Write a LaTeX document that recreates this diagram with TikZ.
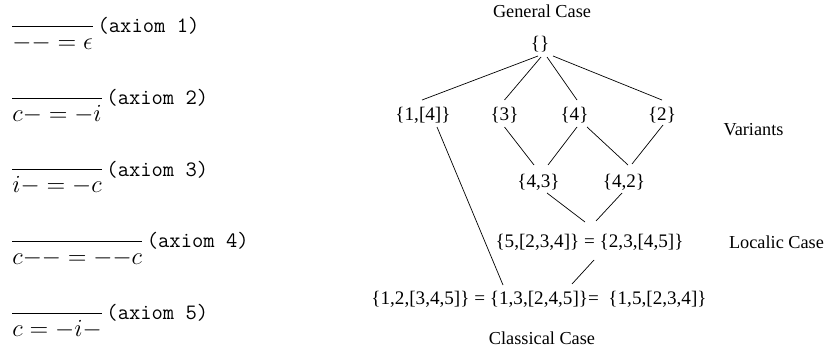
\documentclass[tikz,border=0pt]{standalone}
\usepackage{fix-cm}
\usepackage{amsmath}
\usepackage{fontspec}
\newfontfamily\casefont{Liberation Serif}
\usetikzlibrary{positioning}
\newcommand{\axiomrule}[2]{{\fontsize{14}{16}\selectfont$\dfrac{}{#1}$}\kern1.5pt\texttt{(#2)}}
\tikzset{
  lattnode/.style={
    font=\fontsize{10.9}{12}\selectfont\casefont,
    inner sep=0pt
  },
  caselabel/.style={lattnode, font=\fontsize{10.4}{12}\selectfont\casefont},
  axiombox/.style={
    anchor=base west, inner sep=0pt,
    font=\fontsize{12.5}{15}\selectfont
  },
  lattedge/.style={thin, color=black},
}

\begin{document}
\begin{tikzpicture}[x=0.02cm, y=-0.02cm]
\useasboundingbox (0,0) rectangle (828,352);
% Axioms
\node[axiombox] (ax1) at (10,32.8) {\axiomrule{{-}{-}=\epsilon}{axiom 1}};
\node[axiombox] (ax2) at (10,104.4) {\axiomrule{c{-}=-i}{axiom 2}};
\node[axiombox] (ax3) at (10,176) {\axiomrule{i{-}=-c}{axiom 3}};
\node[axiombox] (ax4) at (10,247.6) {\axiomrule{c{-}{-}={-}{-}c}{axiom 4}};
\node[axiombox] (ax5) at (10,319.2) {\axiomrule{c=-i{-}}{axiom 5}};

% Lattice of cases
\node[caselabel] (general) at (542,11) {General Case};
\node[lattnode] (top) at (540,44) {\{\}};
\node[lattnode] (n14) at (423,115) {\{1,[4]\}};
\node[lattnode] (n3) at (504.5,115) {\{3\}};
\node[lattnode] (n4) at (574.5,115) {\{4\}};
\node[lattnode] (n2) at (662,115) {\{2\}};
\node[caselabel] (variants) at (753.5,130) {Variants};
\node[lattnode] (n43) at (538.5,182) {\{4,3\}};
\node[lattnode] (n42) at (624,182) {\{4,2\}};
\node[lattnode] (mid) at (589.5,242) {\{5,[2,3,4]\} = \{2,3,[4,5]\}};
\node[caselabel] (localic) at (776.5,242) {Localic Case};
\node[lattnode] (bot) at (539,299) {\{1,2,[3,4,5]\} = \{1,3,[2,4,5]\}=~ \{1,5,[2,3,4]\}};
\node[caselabel] (classical) at (542,338.5) {Classical Case};

\draw[lattedge] ([shift={(-2,12)}]top.center) -- ([shift={(-1,-15)}]n14.center);
\draw[lattedge] ([shift={(1,13)}]top.center) -- ([shift={(0,-15)}]n3.center);
\draw[lattedge] ([shift={(7,13)}]top.center) -- ([shift={(2.5,-15)}]n4.center);
\draw[lattedge] ([shift={(13,12)}]top.center) -- ([shift={(0,-15)}]n2.center);
\draw[lattedge] ([shift={(14,12)}]n14.center) -- ([shift={(-36,-14)}]bot.center);
\draw[lattedge] ([shift={(0,12)}]n3.center) -- ([shift={(-4.5,-17)}]n43.center);
\draw[lattedge] ([shift={(2.5,12)}]n4.center) -- ([shift={(9.5,-17)}]n43.center);
\draw[lattedge] ([shift={(12.5,12)}]n4.center) -- ([shift={(4,-17)}]n42.center);
\draw[lattedge] ([shift={(1,10)}]n2.center) -- ([shift={(8,-18)}]n42.center);
\draw[lattedge] ([shift={(8.5,11)}]n43.center) -- ([shift={(-4.5,-20)}]mid.center);
\draw[lattedge] ([shift={(-2,11)}]n42.center) -- ([shift={(6.5,-21)}]mid.center);
\draw[lattedge] ([shift={(4.5,18)}]mid.center) -- ([shift={(33,-15)}]bot.center);
\end{tikzpicture}
\end{document}
